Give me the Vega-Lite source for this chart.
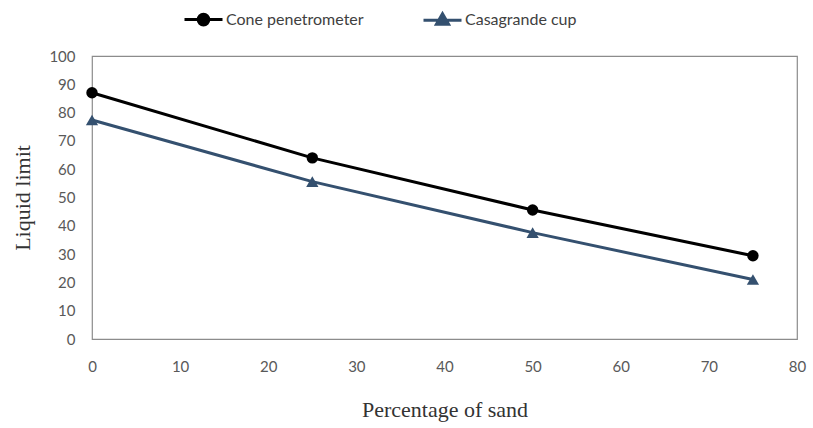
{
  "$schema": "https://vega.github.io/schema/vega-lite/v6.json",
  "width": 705,
  "height": 283,
  "autosize": "none",
  "padding": {"left": 92, "top": 56, "right": 16, "bottom": 89},
  "background": "white",
  "config": {"view": {"stroke": "#8c8c8c", "strokeWidth": 1.2}},
  "data": {
    "values": [
      {"sand": 0, "limit": 87.0, "series": "Cone penetrometer"},
      {"sand": 25, "limit": 64.0, "series": "Cone penetrometer"},
      {"sand": 50, "limit": 45.6, "series": "Cone penetrometer"},
      {"sand": 75, "limit": 29.4, "series": "Cone penetrometer"},
      {"sand": 0, "limit": 77.4, "series": "Casagrande cup"},
      {"sand": 25, "limit": 55.6, "series": "Casagrande cup"},
      {"sand": 50, "limit": 37.6, "series": "Casagrande cup"},
      {"sand": 75, "limit": 21.0, "series": "Casagrande cup"}
    ]
  },
  "encoding": {
    "x": {
      "field": "sand", "type": "quantitative",
      "scale": {"domain": [0, 80], "nice": false},
      "axis": {
        "values": [0, 10, 20, 30, 40, 50, 60, 70, 80],
        "domain": false, "ticks": false, "grid": false, "labelFlush": false,
        "labelPadding": 20, "labelFont": "Lato", "labelFontSize": 15, "labelColor": "#595959",
        "title": "Percentage of sand", "titleFont": "Liberation Serif", "titleFontSize": 22,
        "titleFontWeight": "normal", "titleColor": "#333333", "titlePadding": 25
      }
    },
    "y": {
      "field": "limit", "type": "quantitative",
      "scale": {"domain": [0, 100], "nice": false},
      "axis": {
        "values": [0, 10, 20, 30, 40, 50, 60, 70, 80, 90, 100],
        "domain": false, "ticks": false, "grid": false, "labelFlush": false,
        "labelPadding": 17, "labelFont": "Lato", "labelFontSize": 15, "labelColor": "#595959",
        "title": "Liquid limit", "titleFont": "Liberation Serif", "titleFontSize": 22,
        "titleFontWeight": "normal", "titleColor": "#333333", "titlePadding": 14
      }
    },
    "color": {
      "field": "series", "type": "nominal",
      "scale": {"domain": ["Cone penetrometer", "Casagrande cup"], "range": ["#000000", "#34506f"]},
      "legend": {
        "title": null, "orient": "none", "direction": "horizontal",
        "legendX": 91, "legendY": -57,
        "symbolSize": 1444, "symbolStrokeWidth": 3,
        "labelFont": "Lato", "labelFontSize": 16, "labelColor": "#404040", "labelOffset": 2,
        "columnPadding": 53,
        "encode": {
          "symbols": {
            "update": {
              "shape": {"signal": "datum.value == 'Cone penetrometer' ? 'M-1,0H1M-0.28,0A0.28,0.28 0 1,0 0.28,0A0.28,0.28 0 1,0 -0.28,0Z' : 'M-1,0H1M0,-0.34L0.32,0.22L-0.32,0.22Z'"},
              "fill": {"scale": "color", "field": "value"},
              "stroke": {"scale": "color", "field": "value"},
              "strokeWidth": {"value": 3},
              "opacity": {"value": 1}
            }
          }
        }
      }
    }
  },
  "layer": [
    {"mark": {"type": "line", "strokeWidth": 3}},
    {
      "transform": [{"filter": "datum.series == 'Cone penetrometer'"}],
      "mark": {"type": "point", "filled": true, "opacity": 1, "size": 130, "shape": "circle"}
    },
    {
      "transform": [{"filter": "datum.series == 'Casagrande cup'"}],
      "mark": {"type": "point", "filled": true, "opacity": 1, "size": 150, "shape": "triangle-up"}
    }
  ]
}
